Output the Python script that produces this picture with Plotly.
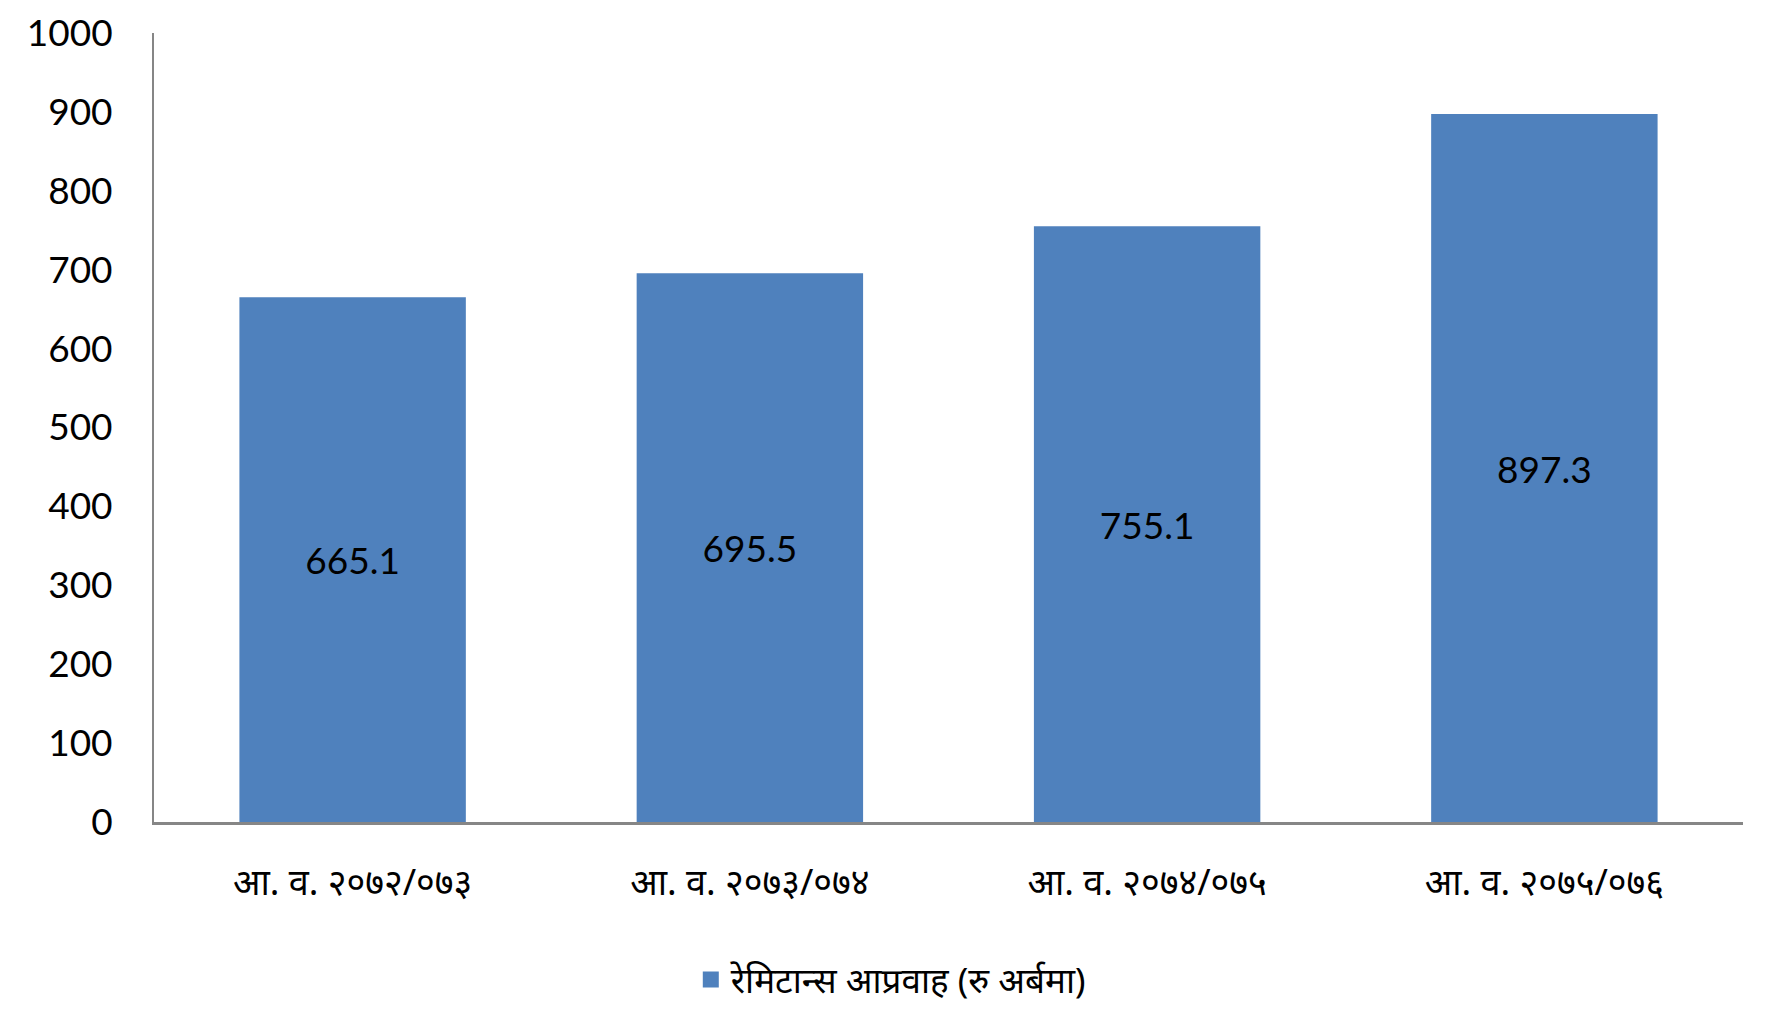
import plotly.graph_objects as go

# === Data ===
years = ["आ. व. २०७२/०७३", "आ. व. २०७३/०७४", "आ. व. २०७४/०७५", "आ. व. २०७५/०७६"]
remittance = [665.1, 695.5, 755.1, 897.3]
series_name = "रेमिटान्स आप्रवाह (रु अर्बमा)"

bar_color = "#4F81BD"
axis_color = "#868686"
num_font = "Lato, Open Sans, Noto Sans"

fig = go.Figure()
fig.add_trace(go.Bar(
    x=years,
    y=remittance,
    name=series_name,
    marker=dict(color=bar_color, line=dict(width=0)),
    text=[f"{v:.1f}" for v in remittance],
    textposition="inside",
    insidetextanchor="middle",
    textangle=0,
    textfont=dict(family=num_font, size=37, color="black"),
    showlegend=False,
))
# legend entry with a bigger square swatch
fig.add_trace(go.Scatter(
    x=[None], y=[None], mode="markers", name=series_name,
    marker=dict(symbol="square", size=24, color=bar_color),
    showlegend=True,
))

fig.update_layout(
    width=1779, height=1024,
    template="plotly_white",
    plot_bgcolor="white", paper_bgcolor="white",
    margin=dict(l=146, r=44, t=25, b=210, autoexpand=False),
    bargap=0.43,
    showlegend=True,
    legend=dict(
        orientation="h", x=0.464, xanchor="center",
        y=-0.2, yanchor="middle",
        font=dict(family="Noto Sans", size=35, color="black"),
        itemwidth=30,
    ),
)
fig.update_yaxes(
    range=[0, 1000], dtick=100, showgrid=False, zeroline=False,
    showline=True, linecolor=axis_color, linewidth=2,
    ticks="", ticklabelstandoff=32, ticklabeloverflow="allow",
    tickfont=dict(family=num_font, size=37, color="black"),
)
fig.update_xaxes(
    showgrid=False, showline=True, linecolor=axis_color, linewidth=3,
    ticks="", ticklabelstandoff=27, tickangle=0,
    tickfont=dict(family="Noto Sans", size=36, color="black"),
)

fig.write_html("out.html")
